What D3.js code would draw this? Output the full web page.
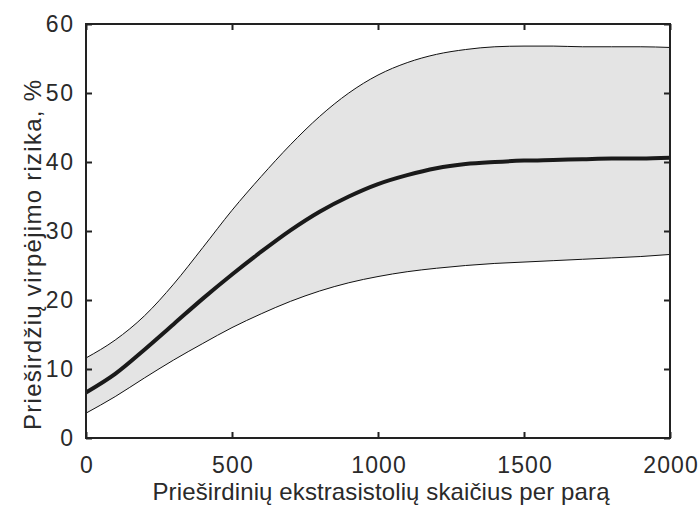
<!DOCTYPE html>
<html><head><meta charset="utf-8">
<script src="https://cdn.jsdelivr.net/npm/d3@7"></script>
<style>body{margin:0;background:#fff}svg{display:block}text{font-family:"Liberation Sans",Arial,sans-serif;fill:#2a2a2a}</style>
</head><body>
<script>
const xValues = [0,100,200,300,400,500,600,700,800,900,1000,1100,1200,1300,1400,1500,1600,1700,1800,1900,2000];
const meanRisk = [6.6,9.3,12.8,16.5,20.2,23.7,27.0,30.1,32.8,35.0,36.8,38.1,39.1,39.7,40.0,40.2,40.3,40.4,40.5,40.5,40.6];
const upperRisk = [11.6,14.2,17.7,22.3,27.6,33.0,37.9,42.5,46.6,50.0,52.6,54.4,55.6,56.3,56.7,56.8,56.8,56.7,56.7,56.7,56.6];
const lowerRisk = [3.6,6.0,8.7,11.3,13.7,16.0,18.0,19.8,21.3,22.5,23.4,24.1,24.6,25.0,25.3,25.5,25.7,25.9,26.1,26.3,26.6];
const xTicks = [0,500,1000,1500,2000];
const yTicks = [0,10,20,30,40,50,60];
const xTitle = "Prieširdinių ekstrasistolių skaičius per parą";
const yTitle = "Prieširdžių virpėjimo rizika, %";

const W=700,H=509,L=86,R=670,T=24,B=438;
const svg=d3.select("body").append("svg").attr("width",W).attr("height",H);
const x=d3.scaleLinear().domain([0,2000]).range([L,R]);
const y=d3.scaleLinear().domain([0,60]).range([B,T]);
const data=xValues.map((v,i)=>({x:v,m:meanRisk[i],u:upperRisk[i],l:lowerRisk[i]}));
const curve=d3.curveMonotoneX;
svg.append("path").datum(data).attr("fill","#e4e4e4")
 .attr("d",d3.area().x(d=>x(d.x)).y0(d=>y(d.l)).y1(d=>y(d.u)).curve(curve));
const line=f=>d3.line().x(d=>x(d.x)).y(d=>y(f(d))).curve(curve);
svg.append("path").datum(data).attr("fill","none").attr("stroke","#111").attr("stroke-width",1).attr("d",line(d=>d.u));
svg.append("path").datum(data).attr("fill","none").attr("stroke","#111").attr("stroke-width",1).attr("d",line(d=>d.l));
svg.append("path").datum(data).attr("fill","none").attr("stroke","#1a1a1a").attr("stroke-width",4).attr("d",line(d=>d.m));

const tl=6;
const fmt=d3.format("d");
const ax=(g)=>{g.selectAll(".domain").remove();g.selectAll("line").attr("stroke","#222").attr("stroke-width",2);};
const stretch=(g)=>g.selectAll("text").attr("font-size",23).each(function(){const t=d3.select(this);t.attr("textLength",t.text().length*13.6).attr("lengthAdjust","spacing");});
svg.append("g").attr("transform",`translate(0,${B})`).call(d3.axisBottom(x).tickValues(xTicks).tickFormat(fmt).tickSizeInner(-tl).tickSizeOuter(0).tickPadding(19))
 .call(ax).call(stretch);
svg.append("g").attr("transform",`translate(0,${T})`).call(d3.axisTop(x).tickValues(xTicks).tickFormat("").tickSizeInner(-tl).tickSizeOuter(0)).call(ax);
svg.append("g").attr("transform",`translate(${L},0)`).call(d3.axisLeft(y).tickValues(yTicks).tickFormat(fmt).tickSizeInner(-tl).tickSizeOuter(0).tickPadding(13))
 .call(ax).call(stretch);
svg.append("g").attr("transform",`translate(${R},0)`).call(d3.axisRight(y).tickValues(yTicks).tickFormat("").tickSizeInner(-tl).tickSizeOuter(0)).call(ax);
svg.append("rect").attr("x",L).attr("y",T).attr("width",R-L).attr("height",B-T).attr("fill","none").attr("stroke","#222").attr("stroke-width",2);

svg.append("text").attr("x",381).attr("y",500).attr("text-anchor","middle").attr("font-size",24)
 .attr("textLength",457).attr("lengthAdjust","spacing").text(xTitle);
svg.append("text").attr("transform",`translate(41,255) rotate(-90)`).attr("text-anchor","middle").attr("font-size",24)
 .attr("textLength",350).attr("lengthAdjust","spacing").text(yTitle);
</script>
</body></html>
